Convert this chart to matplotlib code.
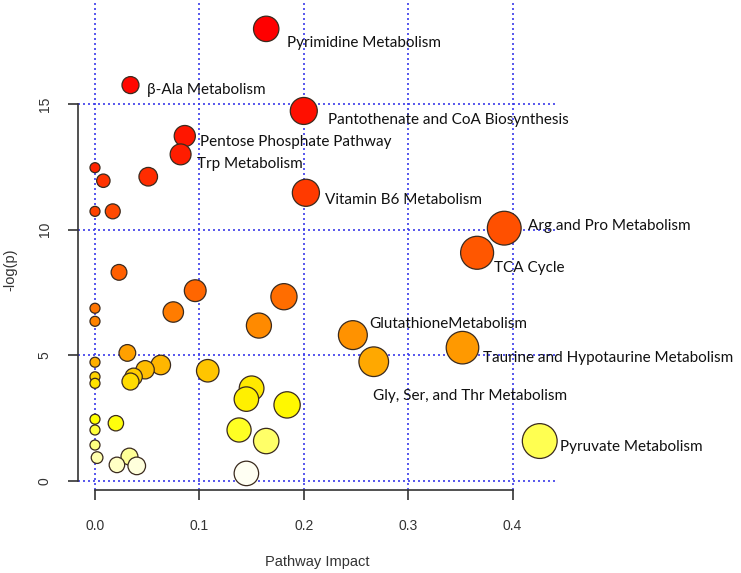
import numpy as np
import matplotlib
matplotlib.use("Agg")
import matplotlib.pyplot as plt
import colorsys

# ---- data ----
impact = [0.164, 0.034, 0.200, 0.086, 0.082, 0.000, 0.051, 0.008, 0.202, 0.000,
          0.017, 0.392, 0.366, 0.023, 0.096, 0.181, 0.000, 0.075, 0.000, 0.157,
          0.247, 0.352, 0.031, 0.267, 0.000, 0.063, 0.048, 0.108, 0.037, 0.000,
          0.034, 0.000, 0.150, 0.145, 0.184, 0.000, 0.020, 0.138, 0.000, 0.426,
          0.164, 0.000, 0.033, 0.002, 0.021, 0.040, 0.145]
neglogp = [18.00, 15.76, 14.73, 13.73, 13.00, 12.47, 12.11, 11.95, 11.47, 10.73,
           10.73, 10.06, 9.08, 8.30, 7.57, 7.33, 6.87, 6.72, 6.35, 6.18,
           5.80, 5.30, 5.09, 4.74, 4.72, 4.61, 4.42, 4.38, 4.14, 4.14,
           3.95, 3.88, 3.68, 3.25, 3.02, 2.45, 2.29, 2.02, 2.02, 1.58,
           1.58, 1.42, 0.96, 0.92, 0.63, 0.59, 0.29]

# labelled pathways: index into arrays -> name
label_idx = [0, 1, 2, 3, 4, 8, 11, 12, 20, 21, 23, 39]
label_names = ["Pyrimidine Metabolism", "\u03b2-Ala Metabolism",
               "Pantothenate and CoA Biosynthesis", "Pentose Phosphate Pathway",
               "Trp Metabolism", "Vitamin B6 Metabolism", "Arg and Pro Metabolism",
               "TCA Cycle", "GlutathioneMetabolism",
               "Taurine and Hypotaurine Metabolism",
               "Gly, Ser, and Thr Metabolism", "Pyruvate Metabolism"]
# label offsets from the point centre, in pixels (dx right, dy down)
label_off_px = [(20.7, 14.3), (16.7, 5.0), (24.7, 9.0), (15.7, 5.7), (16.6, 9.7),
                (19.3, 7.3), (23.3, -2.6), (16.7, 15.6), (16.0, -10.7),
                (20.6, 10.6), (-0.6, 34.0), (20.0, 5.7)]

xticks = [0.0, 0.1, 0.2, 0.3, 0.4]
yticks = [0, 5, 10, 15]

# ---- helpers ----
def heat_colors(n):
    j = n // 4
    k = n - j
    cols = []
    for h in np.linspace(0, 1 / 6, k):
        cols.append(colorsys.hsv_to_rgb(h, 1, 1))
    if j > 0:
        for s in np.linspace(1 - 1 / (2 * j), 1 / (2 * j), j):
            cols.append(colorsys.hsv_to_rgb(1 / 6, s, 1))
    return cols

x = np.array(impact)
y = np.array(neglogp)
order = np.argsort(-y, kind="stable")
hc = heat_colors(len(y))
colors = [None] * len(y)
for rank, i in enumerate(order):
    colors[i] = hc[rank]

px2pt = 0.72
diam_px = 10 + 38 * np.sqrt(x)
sizes = (diam_px * px2pt) ** 2

# ---- figure ----
fig = plt.figure(figsize=(7.41, 5.73), dpi=100)
ax = fig.add_axes([78 / 741, (573 - 490) / 573, 480 / 741, 490 / 573])
ax.set_xlim(-0.01628, 0.44349)
ax.set_ylim(-0.3705, 19.15)

for v in xticks:
    ax.axvline(v, color="#3b3bea", lw=1.2, ls=(0, (1.2, 1.8)), zorder=1)
for v in yticks:
    ax.axhline(v, color="#3b3bea", lw=1.2, ls=(0, (1.2, 1.8)), zorder=1)

ax.scatter(x, y, s=sizes, c=colors, edgecolors="#3a2a1e", linewidths=0.9, zorder=3)

for i, name, (dx, dy) in zip(label_idx, label_names, label_off_px):
    ax.annotate(name, (x[i], y[i]), xytext=(dx * px2pt, -dy * px2pt),
                textcoords="offset points", ha="left", va="center",
                fontsize=11, family=["Lato", "DejaVu Sans"], color="#111111",
                zorder=4)

for side in ["top", "right"]:
    ax.spines[side].set_visible(False)
ax.spines["left"].set_bounds(0, 15)
ax.spines["bottom"].set_bounds(0, 0.4)
for side in ["left", "bottom"]:
    ax.spines[side].set_color("#333333")
    ax.spines[side].set_linewidth(1.2)

ax.set_xticks(xticks)
ax.set_xticklabels([f"{v:.1f}" for v in xticks])
ax.set_yticks(yticks)
ax.set_yticklabels([str(v) for v in yticks], rotation=90, va="center")
ax.tick_params(axis="both", length=7, width=1.2, color="#333333",
               labelsize=10, labelcolor="#333333")
ax.tick_params(axis="x", pad=14)
ax.tick_params(axis="y", pad=12)
for lab in ax.get_xticklabels() + ax.get_yticklabels():
    lab.set_family("Liberation Sans")

ax.set_xlabel("Pathway Impact", fontsize=10.5, family="Liberation Sans", color="#333333")
ax.set_ylabel("-log(p)", fontsize=10.5, family="Liberation Sans", color="#333333")
ax.xaxis.set_label_coords(0.498, -0.133)
ax.yaxis.set_label_coords(-0.127, 0.449)

fig.savefig("out.png", dpi=100)
